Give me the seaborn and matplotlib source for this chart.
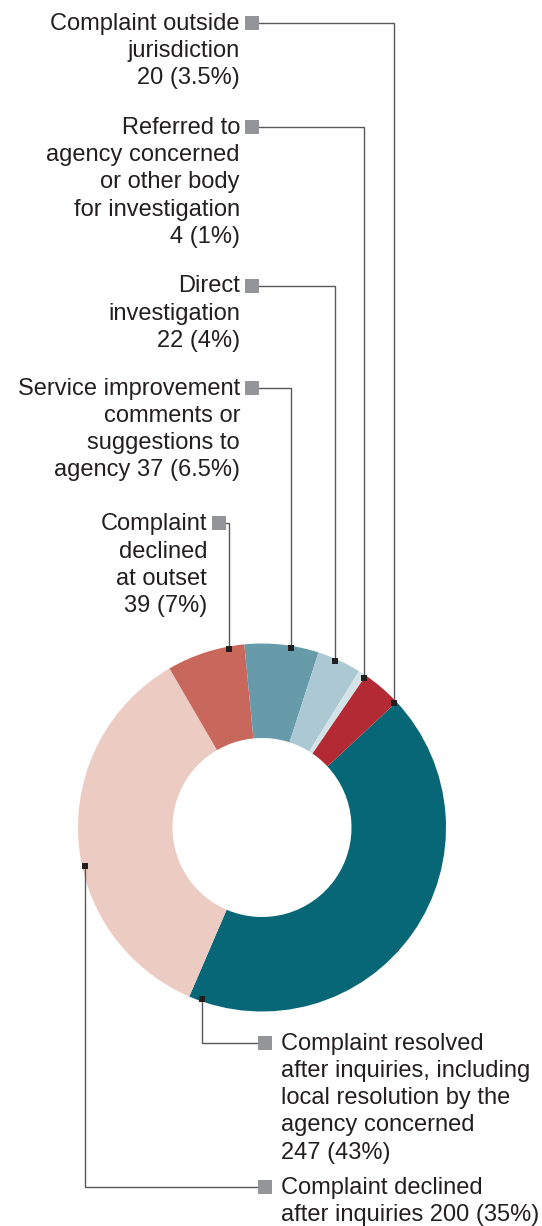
import numpy as np
import matplotlib
matplotlib.use("Agg")
import matplotlib.pyplot as plt
import seaborn as sns

# Complaint outcomes, in drawing order (clockwise from the upper right)
categories = [
    "Complaint resolved\nafter inquiries, including\nlocal resolution by the\nagency concerned\n{v}",
    "Complaint declined\nafter inquiries {v}",
    "Complaint\ndeclined\nat outset\n{v}",
    "Service improvement\ncomments or\nsuggestions to\nagency {v}",
    "Direct\ninvestigation\n{v}",
    "Referred to\nagency concerned\nor other body\nfor investigation\n{v}",
    "Complaint outside\njurisdiction\n{v}",
]
counts = [247, 200, 39, 37, 22, 4, 20]
percents = ["43%", "35%", "7%", "6.5%", "4%", "1%", "3.5%"]
colors = ["#086776", "#ecccc2", "#c8675c", "#689ba9", "#acc8d3", "#d3e3e8", "#b42a34"]

sns.set_theme(style="white")
plt.rcParams["font.family"] = ["Liberation Sans", "DejaVu Sans"]

W, H = 542, 1226
fig = plt.figure(figsize=(W / 100, H / 100), dpi=100)
ax = fig.add_axes([0, 0, 1, 1])

cx, cy = 262, H - 827.5
R, ring = 184, 94.5
start = 43

wedges, _ = ax.pie(
    counts, colors=colors, startangle=start, counterclock=False,
    radius=R, center=(cx, cy),
    wedgeprops=dict(width=ring, linewidth=0),
)
ax.set_xlim(0, W)
ax.set_ylim(0, H)
ax.set_aspect("equal")
ax.axis("off")

# Where each leader line touches its wedge (fraction along the wedge, clockwise)
anchor_frac = [0.975, 0.43, 0.80, 0.63, 0.42, 0.97, 0.96]
# Label placement: side of the key square, key square centre (pixels from top)
label_side = ["right", "right", "left", "left", "left", "left", "left"]
key_x = [265, 265, 219, 252, 252, 252, 252]
key_y = [1042.7, 1186.7, 523.3, 387.5, 285.5, 127, 22.7]

text_color = "#231f20"
line_color = "#58595b"
key_color = "#939598"
line_gap = 27.2
fs = 17

cum = np.cumsum([0] + counts)
total = cum[-1]
for i, (name, n, pct) in enumerate(zip(categories, counts, percents)):
    a0 = start - 360 * cum[i] / total
    a1 = start - 360 * cum[i + 1] / total
    ang = np.deg2rad(a0 + (a1 - a0) * anchor_frac[i])
    dx = cx + 181.5 * np.cos(ang)
    dy = cy + 181.5 * np.sin(ang)
    ky = H - key_y[i]
    kx = key_x[i]
    ax.plot([dx, dx, kx], [dy, ky, ky], color=line_color, lw=1.0,
            solid_joinstyle="miter", zorder=3)
    ax.plot([dx], [dy], marker="s", ms=4.0, mew=0, color=text_color, zorder=4)
    ax.plot([kx], [ky], marker="s", ms=9.8, mew=0, color=key_color, zorder=5)

    lines = name.format(v=f"{n} ({pct})").split("\n")
    base = key_y[i] + 7
    for j, line in enumerate(lines):
        if label_side[i] == "left":
            tx, ha = kx - 12, "right"
        else:
            tx, ha = kx + 16, "left"
        ax.text(tx, H - (base + j * line_gap), line, ha=ha, va="baseline",
                fontsize=fs, color=text_color)

fig.savefig("out.png", dpi=100, facecolor="white")
